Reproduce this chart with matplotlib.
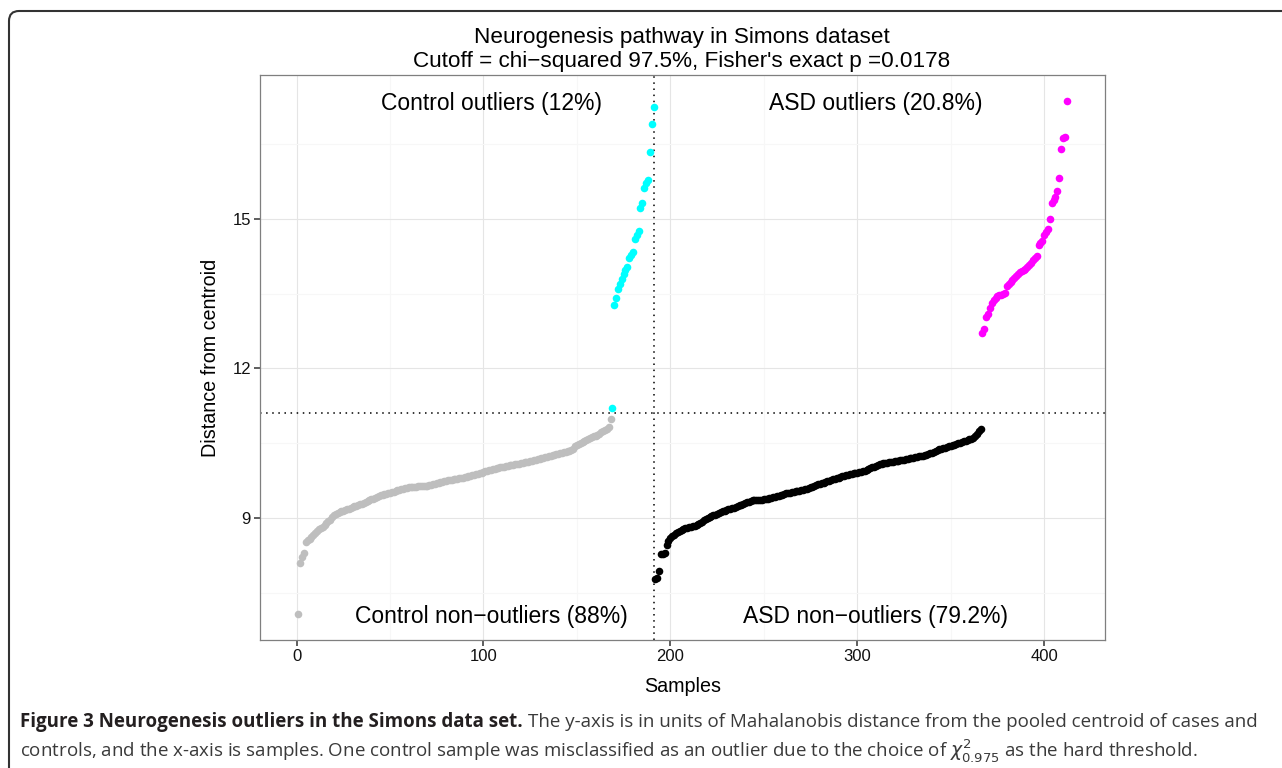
import numpy as np
import matplotlib
matplotlib.use("Agg")
import matplotlib.pyplot as plt
from matplotlib import font_manager
from matplotlib.patches import FancyBboxPatch
from matplotlib.transforms import IdentityTransform
from matplotlib.ticker import MultipleLocator

# sorted Mahalanobis distances
ctrl_in = [7.07, 8.10, 8.22, 8.30, 8.52, 8.56, 8.58, 8.62, 8.66, 8.70,
           8.75, 8.79, 8.81, 8.83, 8.86, 8.90, 8.94, 8.97, 9.02, 9.06,
           9.09, 9.11, 9.13, 9.14, 9.15, 9.16, 9.18, 9.19, 9.21, 9.22,
           9.24, 9.25, 9.27, 9.28, 9.29, 9.31, 9.33, 9.34, 9.36, 9.38,
           9.39, 9.41, 9.43, 9.44, 9.46, 9.47, 9.48, 9.49, 9.50, 9.51,
           9.52, 9.53, 9.54, 9.56, 9.57, 9.58, 9.59, 9.60, 9.61, 9.62,
           9.63, 9.63, 9.63, 9.63, 9.64, 9.64, 9.64, 9.64, 9.64, 9.65,
           9.66, 9.67, 9.68, 9.69, 9.70, 9.71, 9.72, 9.73, 9.74, 9.75,
           9.76, 9.77, 9.77, 9.78, 9.78, 9.79, 9.80, 9.80, 9.81, 9.82,
           9.83, 9.84, 9.85, 9.86, 9.87, 9.88, 9.89, 9.90, 9.91, 9.93,
           9.94, 9.95, 9.96, 9.97, 9.98, 9.99, 10.00, 10.01, 10.02, 10.03,
           10.03, 10.04, 10.05, 10.06, 10.06, 10.07, 10.08, 10.09, 10.09, 10.10,
           10.11, 10.12, 10.12, 10.13, 10.14, 10.15, 10.16, 10.17, 10.18, 10.19,
           10.20, 10.21, 10.22, 10.23, 10.24, 10.25, 10.26, 10.27, 10.28, 10.29,
           10.30, 10.31, 10.32, 10.33, 10.34, 10.35, 10.36, 10.38, 10.44, 10.47,
           10.49, 10.51, 10.53, 10.55, 10.56, 10.58, 10.60, 10.62, 10.64, 10.65,
           10.67, 10.69, 10.72, 10.74, 10.76, 10.78, 10.83, 10.98]
ctrl_out = [11.21, 13.27, 13.42, 13.60, 13.70, 13.80, 13.90, 13.97, 14.03, 14.22,
            14.28, 14.34, 14.60, 14.68, 14.76, 15.22, 15.32, 15.62, 15.72, 15.78,
            16.35, 16.90, 17.24]
asd_in = [7.77, 7.79, 7.94, 8.27, 8.28, 8.29, 8.47, 8.55, 8.60, 8.64,
          8.67, 8.70, 8.72, 8.74, 8.76, 8.78, 8.80, 8.81, 8.82, 8.83,
          8.84, 8.85, 8.86, 8.88, 8.91, 8.93, 8.96, 8.99, 9.01, 9.03,
          9.04, 9.06, 9.07, 9.09, 9.11, 9.12, 9.14, 9.15, 9.16, 9.18,
          9.19, 9.20, 9.21, 9.23, 9.24, 9.26, 9.27, 9.29, 9.30, 9.32,
          9.33, 9.35, 9.36, 9.36, 9.37, 9.37, 9.37, 9.37, 9.38, 9.38,
          9.39, 9.40, 9.41, 9.42, 9.43, 9.44, 9.45, 9.46, 9.47, 9.49,
          9.50, 9.51, 9.51, 9.52, 9.53, 9.54, 9.55, 9.55, 9.56, 9.57,
          9.58, 9.59, 9.60, 9.62, 9.63, 9.65, 9.66, 9.68, 9.69, 9.70,
          9.71, 9.73, 9.74, 9.75, 9.77, 9.78, 9.79, 9.80, 9.81, 9.82,
          9.84, 9.85, 9.86, 9.87, 9.88, 9.89, 9.90, 9.90, 9.91, 9.92,
          9.93, 9.94, 9.95, 9.97, 9.98, 10.00, 10.02, 10.03, 10.05, 10.06,
          10.08, 10.09, 10.10, 10.11, 10.11, 10.12, 10.13, 10.13, 10.14, 10.15,
          10.15, 10.16, 10.17, 10.17, 10.18, 10.19, 10.20, 10.20, 10.21, 10.22,
          10.23, 10.24, 10.24, 10.25, 10.26, 10.27, 10.28, 10.30, 10.31, 10.33,
          10.34, 10.36, 10.38, 10.39, 10.40, 10.41, 10.43, 10.44, 10.45, 10.46,
          10.47, 10.48, 10.50, 10.51, 10.52, 10.54, 10.55, 10.56, 10.58, 10.59,
          10.61, 10.64, 10.69, 10.74, 10.78]
asd_out = [12.72, 12.80, 13.04, 13.10, 13.22, 13.32, 13.38, 13.42, 13.45, 13.47,
           13.48, 13.50, 13.52, 13.66, 13.69, 13.73, 13.78, 13.82, 13.86, 13.90,
           13.93, 13.96, 13.98, 14.00, 14.04, 14.08, 14.12, 14.17, 14.22, 14.25,
           14.48, 14.52, 14.55, 14.67, 14.74, 14.79, 15.00, 15.31, 15.38, 15.44,
           15.55, 15.82, 16.41, 16.62, 16.64, 17.37]
cutoff = 11.11

groups = [ctrl_in, ctrl_out, asd_in, asd_out]
colors = ["#bebebe", "#00ffff", "#000000", "#ff00ff"]

labels = ["Control outliers (12%)", "ASD outliers (20.8%)",
          "Control non\u2212outliers (88%)", "ASD non\u2212outliers (79.2%)"]
label_x = [104.5, 309.7]

plt.rcParams['font.family'] = ['Liberation Sans', 'DejaVu Sans']
names = {f.name for f in font_manager.fontManager.ttflist}
cap_font = 'Liberation Sans Narrow' if 'Liberation Sans Narrow' in names else 'Open Sans'

W, H = 1282, 768
fig = plt.figure(figsize=(W / 100, H / 100), dpi=100)
ax = fig.add_axes([260 / W, 1 - 640 / H, 845 / W, 565 / H])

start = 1
for vals, c in zip(groups, colors):
    x = np.arange(start, start + len(vals))
    ax.scatter(x, vals, s=30, c=c, linewidths=0, zorder=3)
    start += len(vals)

all_y = np.concatenate(groups)
n_ctrl = len(ctrl_in) + len(ctrl_out)
ax.axvline(n_ctrl + 0.5, color='black', lw=1.1, ls=(0, (1, 3)), zorder=2)
ax.axhline(cutoff, color='black', lw=1.1, ls=(0, (1, 3)), zorder=2)

ymax, ymin = all_y.max(), all_y.min()
ax.text(label_x[0], ymax - 0.05, labels[0], ha='center', va='center', fontsize=16.5)
ax.text(label_x[1], ymax - 0.05, labels[1], ha='center', va='center', fontsize=16.5)
ax.text(label_x[0], ymin - 0.04, labels[2], ha='center', va='center', fontsize=16.5)
ax.text(label_x[1], ymin - 0.04, labels[3], ha='center', va='center', fontsize=16.5)

n = start - 1
ax.set_xlim(1 - 0.05 * (n - 1), n + 0.05 * (n - 1))
yr = ymax - ymin
ax.set_ylim(ymin - 0.05 * yr, ymax + 0.05 * yr)

ax.xaxis.set_major_locator(MultipleLocator(100))
ax.xaxis.set_minor_locator(MultipleLocator(50))
ax.yaxis.set_major_locator(MultipleLocator(3))
ax.yaxis.set_minor_locator(MultipleLocator(1.5))
ax.grid(which='major', color='#e5e5e5', lw=0.8, zorder=0)
ax.grid(which='minor', color='#f7f7f7', lw=0.8, zorder=0)
ax.set_axisbelow(True)
ax.tick_params(which='major', length=4, width=1.1, color='#333333',
               labelsize=12, labelcolor='#111111', pad=2.5)
ax.tick_params(which='minor', length=0)
for s in ax.spines.values():
    s.set_color('#7f7f7f')
    s.set_linewidth(0.9)

ax.set_xlabel("Samples", fontsize=14.2, labelpad=9)
ax.set_ylabel("Distance from centroid", fontsize=14.2, labelpad=9)

fig.text(682 / W, 1 - 38 / H, "Neurogenesis pathway in Simons dataset",
         ha='center', va='center', fontsize=16.2)
fig.text(682 / W, 1 - 61 / H,
         "Cutoff = chi\u2212squared 97.5%, Fisher's exact p =0.0178",
         ha='center', va='center', fontsize=16.2)

# figure frame with rounded corners
frame = FancyBboxPatch((9, -30), 1320, H - 11 + 30,
                       boxstyle="round,pad=0,rounding_size=10",
                       transform=IdentityTransform(), fill=False,
                       ec='#333333', lw=1.5)
fig.add_artist(frame)

bold = fig.text(20 / W, 1 - 722 / H, "Figure 3 Neurogenesis outliers in the Simons data set.",
                ha='left', va='center', fontsize=13.5, fontweight='bold',
                family=cap_font, color='#231f20')
fig.canvas.draw()
bb = bold.get_window_extent()
fig.text((bb.x1 + 5) / W, 1 - 722 / H,
         "The y-axis is in units of Mahalanobis distance from the pooled centroid of cases and",
         ha='left', va='center', fontsize=13.5, family=cap_font, color='#3a3a3a')
fig.text(20 / W, 1 - 750 / H,
         "controls, and the x-axis is samples. One control sample was misclassified as an outlier "
         "due to the choice of $\\chi^2_{0.975}$ as the hard threshold.",
         ha='left', va='center', fontsize=13.5, family=cap_font, color='#3a3a3a')

fig.savefig("out.png", dpi=100)
